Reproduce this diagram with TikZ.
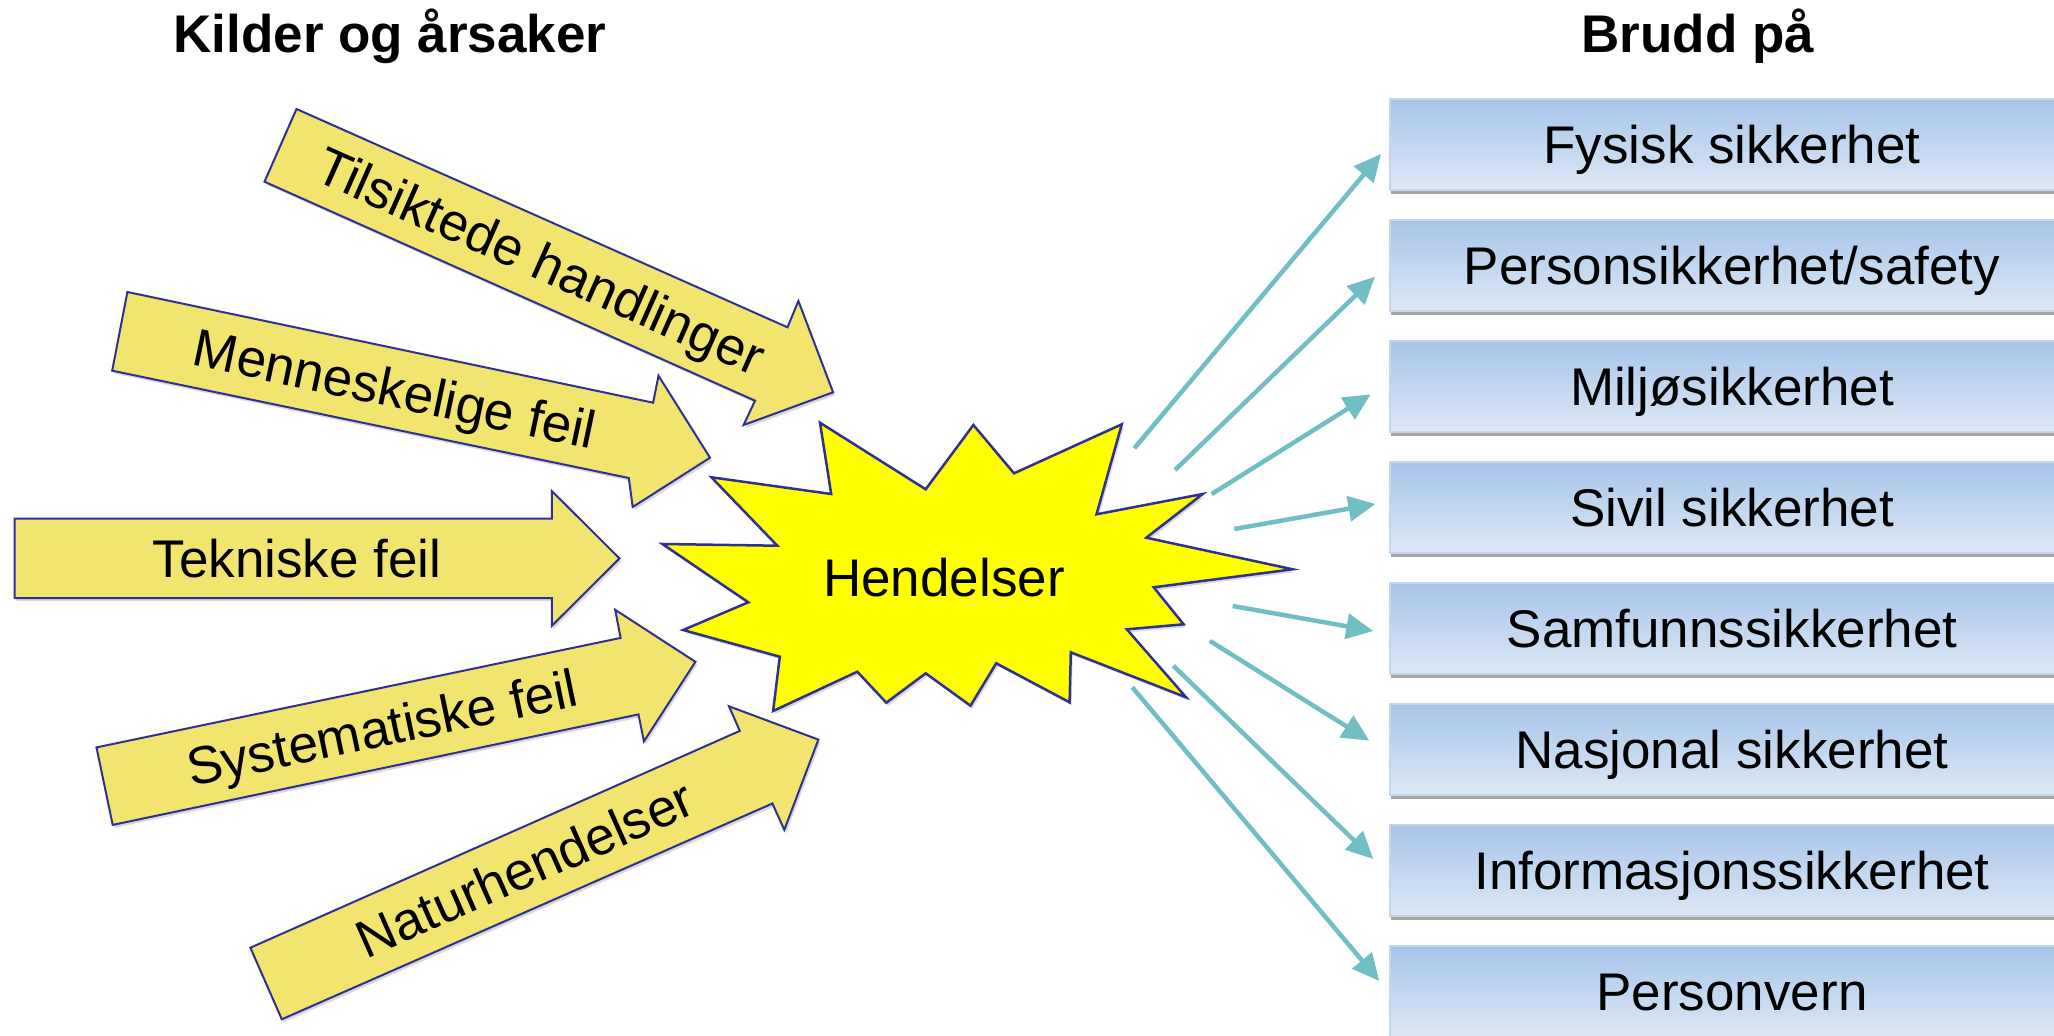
\documentclass[tikz,border=0pt]{standalone}
\usepackage{fontspec}
\setmainfont{Liberation Sans}
\usetikzlibrary{arrows.meta,shadows}
\definecolor{arrowfill}{RGB}{241,229,111}
\definecolor{navyline}{RGB}{46,49,146}
\definecolor{burstfill}{RGB}{255,255,0}
\definecolor{linkteal}{RGB}{113,191,196}
\definecolor{boxtop}{RGB}{167,197,233}
\definecolor{boxbot}{RGB}{221,232,246}
\definecolor{boxedge}{RGB}{198,214,230}
\begin{document}
\begin{tikzpicture}[x=1pt,y=-1pt,
  lbl/.style={font=\fontsize{53pt}{60pt}\selectfont, text height=37pt, text depth=0pt, inner sep=0pt},
  hdr/.style={lbl, font=\fontsize{53pt}{60pt}\selectfont\bfseries},
  blockarrow/.style={fill=arrowfill, draw=navyline, line width=2pt, line join=miter,
    drop shadow={shadow xshift=2pt, shadow yshift=-3pt, fill=black, opacity=0.15}},
  burst/.style={fill=burstfill, draw=navyline, line width=2.5pt, line join=miter,
    drop shadow={shadow xshift=2pt, shadow yshift=-3pt, fill=black, opacity=0.15}},
  catbox/.style={lbl, rectangle, minimum width=684pt, minimum height=91pt,
    top color=boxtop, bottom color=boxbot, draw=boxedge, line width=1.5pt,
    drop shadow={shadow xshift=1pt, shadow yshift=-3.5pt, fill=black, opacity=0.35}},
  link/.style={draw=linkteal, line width=4.5pt, -{Triangle[length=27pt,width=25pt]}}
]
\clip (0,0) rectangle (2054,1036);
\fill[white] (0,0) rectangle (2054,1036);

% headers
\node[hdr] (hleft) at (390,34) {Kilder og årsaker};
\node[hdr] (hright) at (1698,34) {Brudd på};

% boxes
\node[catbox] (b1) at (1732,144.5) {Fysisk sikkerhet};
\node[catbox] (b2) at (1732,265.5) {Personsikkerhet/safety};
\node[catbox] (b3) at (1732,386.5) {Miljøsikkerhet};
\node[catbox] (b4) at (1732,507.5) {Sivil sikkerhet};
\node[catbox] (b5) at (1732,628.5) {Samfunnssikkerhet};
\node[catbox] (b6) at (1732,749.5) {Nasjonal sikkerhet};
\node[catbox] (b7) at (1732,870.5) {Informasjonssikkerhet};
\node[catbox] (b8) at (1732,991.5) {Personvern};

% block arrows
\draw[blockarrow] (296.5,109) -- (787.5,327.3) -- (798.4,301) -- (833.1,392.3) -- (743.6,425) -- (755,400.7) -- (264.5,181.7) -- cycle;
\node[lbl, rotate=-23.97] (a1) at (541,261) {Tilsiktede handlinger};

\draw[blockarrow] (127.4,292) -- (653.1,402.7) -- (658.5,375.7) -- (710,457.7) -- (632.7,507) -- (628.8,478) -- (112.2,370.7) -- cycle;
\node[lbl, rotate=-11.9] (a2) at (395,389) {Menneskelige feil};

\draw[blockarrow] (14.6,518.6) -- (551.8,518.6) -- (551.8,491) -- (619.5,558.4) -- (551.8,625.8) -- (551.8,598.2) -- (14.6,598.2) -- cycle;
\node[lbl] (a3) at (297,559) {Tekniske feil};

\draw[blockarrow] (96.5,747.4) -- (620.6,637.9) -- (615.2,609.8) -- (695.4,661.8) -- (643.9,741.4) -- (638.5,714.4) -- (112.7,824.9) -- cycle;
\node[lbl, rotate=11.8] (a4) at (382,728) {Systematiske feil};

\draw[blockarrow] (250.4,947.7) -- (739.8,730.9) -- (729,706.3) -- (818.4,739.6) -- (784.3,829.8) -- (772.4,803.5) -- (281.8,1019.3) -- cycle;
\node[lbl, rotate=23.9] (a5) at (525,869) {Naturhendelser};

% starburst
\draw[burst] (820.0,422.7) -- (831.2,494) -- (711.4,477.3) -- (777.3,545.7) -- (662.4,544)
  -- (748.3,602.3) -- (683.2,630) -- (779.8,656.7) -- (773.1,711) -- (857.3,671.7)
  -- (886.3,702.7) -- (925.7,673.3) -- (970.5,705.7) -- (996.2,663.3) -- (1069.6,702.3)
  -- (1070.8,652.3) -- (1186.1,697.3) -- (1126.8,629.3) -- (1183.6,624.3) -- (1153.7,587.3)
  -- (1292.6,569.3) -- (1146.3,537.7) -- (1202.7,494) -- (1096.5,514.3) -- (1121.8,424.3)
  -- (1014.0,473.3) -- (973.4,425) -- (925.7,489.3) -- cycle;
\node[lbl] (hend) at (944,578) {Hendelser};

% connector end points
\coordinate (s1) at (1134.3,448.3); \coordinate (t1) at (1381,154);
\coordinate (s2) at (1175,470);     \coordinate (t2) at (1375,276.7);
\coordinate (s3) at (1211.7,494);   \coordinate (t3) at (1370.7,394.3);
\coordinate (s4) at (1234.3,529);   \coordinate (t4) at (1375.3,504);
\coordinate (s5) at (1232.7,606);   \coordinate (t5) at (1373.3,631);
\coordinate (s6) at (1210,641);     \coordinate (t6) at (1369.3,740.7);
\coordinate (s7) at (1173.3,665.7); \coordinate (t7) at (1373.3,859);
\coordinate (s8) at (1132.3,687.3); \coordinate (t8) at (1379.3,981);

\foreach \i in {1,...,8} { \draw[link] (s\i) -- (t\i); }
\end{tikzpicture}
\end{document}
